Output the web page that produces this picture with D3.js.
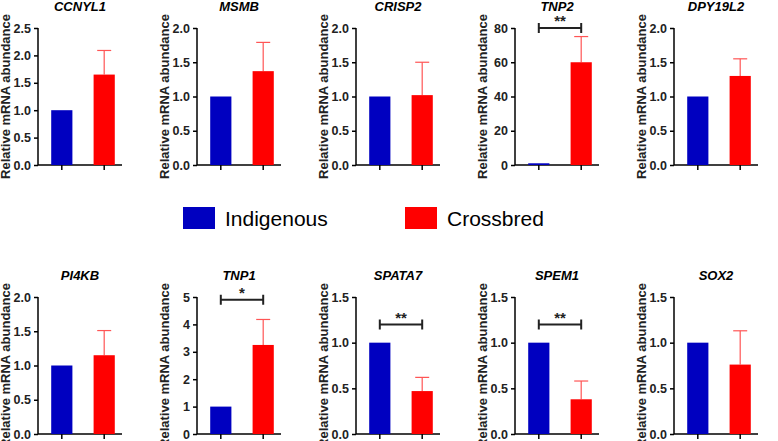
<!DOCTYPE html>
<html><head><meta charset="utf-8">
<script src="https://cdn.jsdelivr.net/npm/d3@7"></script>
<style>body{margin:0;background:#fff}text{font-family:Arial,"Liberation Sans",sans-serif}</style>
</head><body><svg id="c" width="778" height="441"></svg>
<script>
var genes = ["CCNYL1","MSMB","CRISP2","TNP2","DPY19L2","PI4KB","TNP1","SPATA7","SPEM1","SOX2"];
var indigenous = [1,1,1,1,1,1,1,1,1,1];
var crossbred = [1.65,1.37,1.02,60,1.3,1.15,3.25,0.47,0.38,0.76];
var crossbredErr = [0.44,0.42,0.48,15,0.25,0.36,0.93,0.15,0.2,0.37];
var yMax = [2.5,2.0,2.0,80,2.0,2.0,5,1.5,1.5,1.5];
var yStep = [0.5,0.5,0.5,20,0.5,0.5,1,0.5,0.5,0.5];
var sig = ["","","","**","","","*","**","**",""];
var sigAt = [0,0,0,80,0,0,4.9,1.2,1.2,0];
var groups = ["Indigenous","Crossbred"];
var colors = ["#0000c0","#ff0000"];

var svg = d3.select("#c");
var ph = 137;

genes.forEach(function(g, i) {
    var col = i % 5, row = Math.floor(i / 5);
    var ax = 38 + col * 159;
    var top = row == 0 ? 28 : 297;
    var y = d3.scaleLinear().domain([0, yMax[i]]).range([ph, 0]);
    var x = d3.scaleBand().domain(groups).range([6, 84]).paddingInner(0.5).paddingOuter(0.17);
    var p = svg.append("g").attr("transform", "translate(" + ax + "," + top + ")");

    var ticks = d3.range(0, yMax[i] + yStep[i] / 2, yStep[i]);
    var yAxis = d3.axisLeft(y).tickValues(ticks).tickSize(4)
        .tickFormat(yStep[i] < 1 ? d3.format(".1f") : d3.format("d"));
    var ya = p.append("g").call(yAxis);
    var xa = p.append("g").attr("transform", "translate(0," + ph + ")")
        .call(d3.axisBottom(x).tickSize(5).tickFormat(""));
    [ya, xa].forEach(function(a) {
        a.select(".domain").attr("stroke-width", 1.5).attr("d", a === ya ? "M0,0V" + ph : "M0,0H84");
        a.selectAll(".tick line").attr("stroke-width", 1.5);
        a.selectAll("text").attr("font-size", 12.5).attr("font-weight", "bold").attr("fill", "#222");
    });

    var vals = [indigenous[i], crossbred[i]];
    // error bar (upper only)
    var cx = x("Crossbred") + x.bandwidth() / 2;
    p.append("line").attr("x1", cx).attr("x2", cx)
        .attr("y1", y(crossbred[i])).attr("y2", y(crossbred[i] + crossbredErr[i]))
        .attr("stroke", "#ff5555").attr("stroke-width", 1.2);
    p.append("line").attr("x1", cx - 7).attr("x2", cx + 7)
        .attr("y1", y(crossbred[i] + crossbredErr[i])).attr("y2", y(crossbred[i] + crossbredErr[i]))
        .attr("stroke", "#ff5555").attr("stroke-width", 1.2);
    p.selectAll("rect").data(vals).enter().append("rect")
        .attr("x", function(d, k) { return x(groups[k]); })
        .attr("width", x.bandwidth())
        .attr("y", function(d) { return y(d); })
        .attr("height", function(d) { return ph - y(d); })
        .attr("fill", function(d, k) { return colors[k]; });

    if (sig[i]) {
        var x1 = x("Indigenous") + x.bandwidth() / 2, sy = y(sigAt[i]);
        p.append("path").attr("d", "M" + x1 + "," + (sy - 5) + "V" + (sy + 5) + "M" + x1 + "," + sy + "H" + cx + "M" + cx + "," + (sy - 5) + "V" + (sy + 5))
            .attr("stroke", "#222").attr("stroke-width", 2).attr("fill", "none");
        p.append("text").attr("x", (x1 + cx) / 2).attr("y", sy + 5).attr("text-anchor", "middle")
            .attr("font-size", 15).attr("font-weight", "bold").attr("fill", "#222")
            .attr("dy", "-0.45em").text(sig[i]);
    }

    p.append("text").attr("x", 42).attr("y", -17).attr("text-anchor", "middle")
        .attr("font-size", 13).attr("font-weight", "bold").attr("font-style", "italic").text(g);
    p.append("text").attr("transform", "translate(-28," + (ph / 2) + ") rotate(-90)")
        .attr("text-anchor", "middle").attr("font-size", 13).attr("font-weight", "bold")
        .attr("fill", "#222").text("Relative mRNA abundance");
});

var leg = svg.append("g").selectAll("g").data(groups).enter().append("g")
    .attr("transform", function(d, k) { return "translate(" + (183 + k * 222) + ",207)"; });
leg.append("rect").attr("width", 32).attr("height", 22).attr("fill", function(d, k) { return colors[k]; });
leg.append("text").attr("x", 42).attr("y", 19).attr("font-size", 21).text(function(d) { return d; });
</script></body></html>
